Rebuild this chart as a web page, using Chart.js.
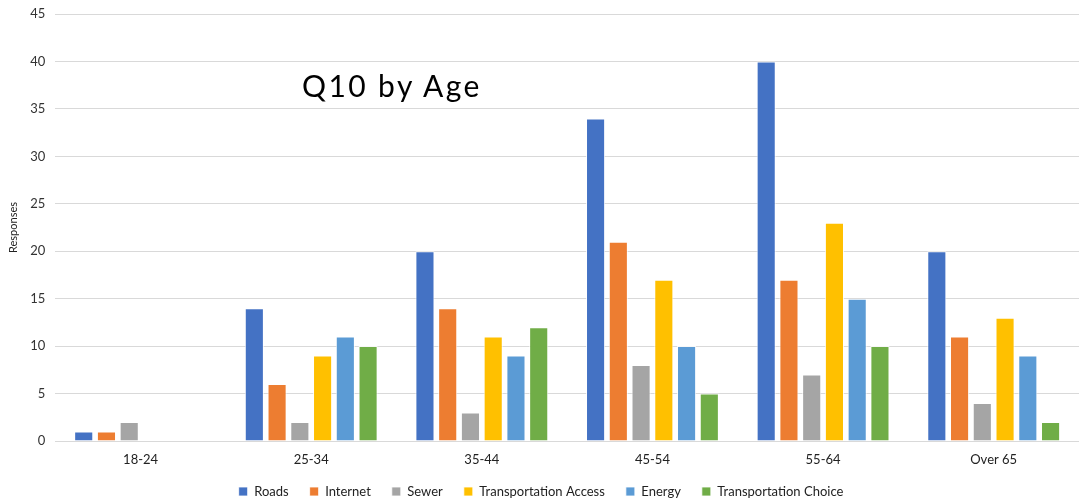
<!DOCTYPE html>
<html>
<head>
<meta charset="utf-8">
<script src="https://cdn.jsdelivr.net/npm/chart.js@4/dist/chart.umd.min.js"></script>
<style>
    html, body { margin: 0; padding: 0; background: #fff; }
    #wrap { position: relative; width: 1079px; height: 498px; }
    #title {
        position: absolute; left: 302px; top: 67px;
        font-family: "Lato", sans-serif; font-size: 30px; color: #000;
        letter-spacing: 2.4px;
    }
</style>
</head>
<body>
<div id="wrap">
    <canvas id="chart" width="1079" height="498"></canvas>
    <div id="title">Q10 by Age</div>
</div>
<script>
const ageGroups = ["18-24", "25-34", "35-44", "45-54", "55-64", "Over 65"];
const roads = [1, 14, 20, 34, 40, 20];
const internet = [1, 6, 14, 21, 17, 11];
const sewer = [2, 2, 3, 8, 7, 4];
const transportationAccess = [0, 9, 11, 17, 23, 13];
const energy = [0, 11, 9, 10, 15, 9];
const transportationChoice = [0, 10, 12, 5, 10, 2];
const yTicks = [0, 5, 10, 15, 20, 25, 30, 35, 40, 45];

const FONT = "Lato, sans-serif";

function series(label, data, color) {
    return {
        label: label,
        data: data,
        backgroundColor: color,
        borderColor: "rgba(255,255,255,0.8)",
        borderWidth: 1,
        barPercentage: 0.84,
        categoryPercentage: 0.8
    };
}

// keep the legend wide apart but squeeze its block height
const legendHeight = {
    id: "legendHeight",
    beforeLayout(chart) {
        const lg = chart.legend;
        if (!lg || lg._fitPatched) return;
        const fit = lg.fit.bind(lg);
        lg.fit = function () {
            fit();
            this.height = 34;
        };
        lg._fitPatched = true;
    }
};

new Chart(document.getElementById("chart"), {
    type: "bar",
    data: {
        labels: ageGroups,
        datasets: [
            series("Roads", roads, "#4472C4"),
            series("Internet", internet, "#ED7D31"),
            series("Sewer", sewer, "#A5A5A5"),
            series("Transportation Access", transportationAccess, "#FFC000"),
            series("Energy", energy, "#5B9BD5"),
            series("Transportation Choice", transportationChoice, "#70AD47")
        ]
    },
    options: {
        responsive: false,
        animation: false,
        layout: { padding: { top: 14, right: 0, left: 3, bottom: 0 } },
        scales: {
            x: {
                grid: { display: false, drawTicks: false },
                border: { display: true, color: "#d9d9d9" },
                ticks: { color: "#222", font: { family: FONT, size: 13 }, padding: 11 },
                afterFit: s => { s.height = 23; }
            },
            y: {
                min: 0,
                max: 45,
                afterBuildTicks: axis => { axis.ticks = yTicks.map(v => ({ value: v })); },
                afterFit: s => { s.paddingTop = 0; },
                grid: { color: "#d9d9d9", drawTicks: false },
                border: { display: false },
                ticks: { color: "#333", font: { family: FONT, size: 13 }, padding: 10 },
                title: { display: true, text: "Responses", color: "#222", font: { family: FONT, size: 11 }, padding: { top: 4, bottom: 0 } }
            }
        },
        plugins: {
            legend: {
                position: "bottom",
                labels: {
                    color: "#222",
                    font: { family: FONT, size: 13 },
                    boxWidth: 9,
                    boxHeight: 9,
                    padding: 21
                }
            },
            tooltip: { enabled: false }
        }
    },
    plugins: [legendHeight]
});
</script>
</body>
</html>
